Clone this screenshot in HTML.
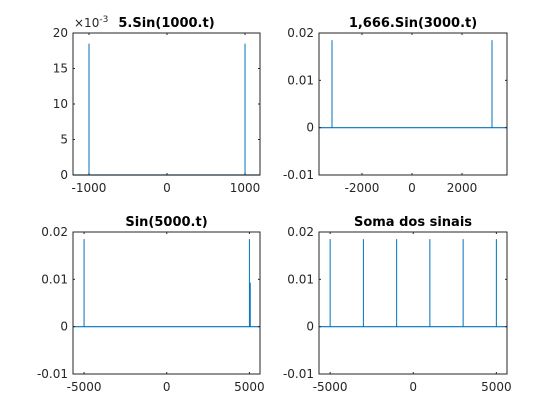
<!DOCTYPE html>
<html><head><meta charset="utf-8"><style>
body{margin:0;background:#fff;}
svg{display:block;font-family:"DejaVu Sans","Liberation Sans",sans-serif;}
</style></head><body>
<svg id="c" width="560" height="420"></svg>
<script>
const titles=["5.Sin(1000.t)","1,666.Sin(3000.t)","Sin(5000.t)","Soma dos sinais"];
const spikeFreqs1=[-1000,1000];
const spikeAmps1=[0.0185,0.0185];
const spikeFreqs2=[-3200,3200];
const spikeAmps2=[0.0185,0.0185];
const spikeFreqs3=[-5000,5000,5050];
const spikeAmps3=[0.0185,0.0185,0.0093];
const spikeFreqs4=[-5000,-3000,-1000,1000,3000,5000];
const spikeAmps4=[0.0185,0.0185,0.0185,0.0185,0.0185,0.0185];
const xTicks1=[-1000,0,1000],xTickLabels1=["-1000","0","1000"];
const xTicks2=[-2000,0,2000],xTickLabels2=["-2000","0","2000"];
const xTicks3=[-5000,0,5000],xTickLabels3=["-5000","0","5000"];
const yTicks1=[0,0.005,0.01,0.015,0.02],yTickLabels1=["0","5","10","15","20"];
const yTicks2=[-0.01,0,0.01,0.02],yTickLabels2=["-0.01","0","0.01","0.02"];
const NS="http://www.w3.org/2000/svg",svg=document.getElementById('c');
function mk(t,a,p){const e=document.createElementNS(NS,t);for(const k in a)e.setAttribute(k,a[k]);(p||svg).appendChild(e);return e;}
const panels=[
 {x0:73,x1:260,y0:33,y1:175,xr:[-1205,1192],yr:[0,0.02],f:spikeFreqs1,a:spikeAmps1,xt:xTicks1,xl:xTickLabels1,yt:yTicks1,yl:yTickLabels1,exp:true},
 {x0:319,x1:507,y0:33,y1:175,xr:[-3720,3800],yr:[-0.01,0.02],f:spikeFreqs2,a:spikeAmps2,xt:xTicks2,xl:xTickLabels2,yt:yTicks2,yl:yTickLabels2},
 {x0:73,x1:260,y0:232,y1:374,xr:[-5670,5640],yr:[-0.01,0.02],f:spikeFreqs3,a:spikeAmps3,xt:xTicks3,xl:xTickLabels3,yt:yTicks2,yl:yTickLabels2},
 {x0:319,x1:507,y0:232,y1:374,xr:[-5670,5640],yr:[-0.01,0.02],f:spikeFreqs4,a:spikeAmps4,xt:xTicks3,xl:xTickLabels3,yt:yTicks2,yl:yTickLabels2}];
panels.forEach((p,i)=>{
 const g=mk('g',{});
 
 
 const X=v=>p.x0+(v-p.xr[0])/(p.xr[1]-p.xr[0])*(p.x1-p.x0);
 const Y=v=>p.y1-(v-p.yr[0])/(p.yr[1]-p.yr[0])*(p.y1-p.y0);
 mk('rect',{x:p.x0,y:p.y0,width:p.x1-p.x0,height:p.y1-p.y0,fill:'#fff'},g);
 const base=mk('line',{x1:p.x0,x2:p.x1,y1:Y(0),y2:Y(0),stroke:'#0072bd','stroke-width':1.2},g);
 
 p.f.forEach((f,j)=>{const l=mk('line',{x1:X(f),x2:X(f),y1:Y(0),y2:Y(p.a[j]),stroke:'#0072bd','stroke-width':1},g);
  });
 mk('rect',{x:p.x0,y:p.y0,width:p.x1-p.x0,height:p.y1-p.y0,fill:'none',stroke:'#262626','stroke-width':1},g);
 p.xt.forEach((t,j)=>{const x=X(t);
  mk('line',{x1:x,x2:x,y1:p.y1,y2:p.y1-2,stroke:'#262626'},g);
  mk('line',{x1:x,x2:x,y1:p.y0,y2:p.y0+2,stroke:'#262626'},g);
  const tx=mk('text',{x:x,y:p.y1+17,'text-anchor':'middle','font-size':12,fill:'#262626'},g);tx.textContent=p.xl[j];
  });
 p.yt.forEach((t,j)=>{const y=Y(t);
  mk('line',{x1:p.x0,x2:p.x0+2,y1:y,y2:y,stroke:'#262626'},g);
  mk('line',{x1:p.x1,x2:p.x1-2,y1:y,y2:y,stroke:'#262626'},g);
  const tx=mk('text',{x:p.x0-5,y:y+4,'text-anchor':'end','font-size':12,fill:'#262626'},g);tx.textContent=p.yl[j];
  });
 const tt=mk('text',{x:(p.x0+p.x1)/2,y:p.y0-6,'text-anchor':'middle','font-size':13,'font-weight':'bold',fill:'#000'},g);
 tt.textContent=titles[i];
 
 if(p.exp){const e=mk('text',{x:p.x0+1,y:p.y0-6,'font-size':12,fill:'#262626'},g);
  e.innerHTML='×10<tspan dy="-5" font-size="9">-3</tspan>';
  }
});
</script>
</body></html>
